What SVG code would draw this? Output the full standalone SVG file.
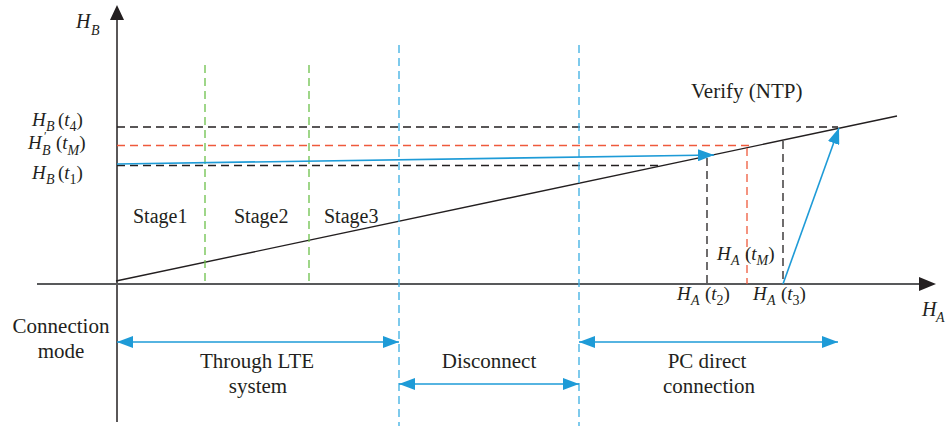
<svg xmlns="http://www.w3.org/2000/svg" width="950" height="426" viewBox="0 0 950 426">
<defs>
<marker id="ba" viewBox="0 0 16 12" refX="16" refY="6" markerWidth="16" markerHeight="12" markerUnits="userSpaceOnUse" orient="auto-start-reverse"><path d="M0,0 L16,6 L0,12 Z" fill="#1e9bd7"/></marker>
</defs>
<style>
text{fill:#231f20;font-size:19px}
.t{font-size:21px}
.i{font-style:italic}
.s{font-size:14px}
.blk{stroke:#231f20;stroke-width:1.3;stroke-dasharray:8 5;fill:none}
.red{stroke:#ef5a3c;stroke-width:1.3;stroke-dasharray:8 5;fill:none}
.grn{stroke:#6cc04a;stroke-width:1.3;stroke-dasharray:8 5;fill:none}
.bld{stroke:#3aaee2;stroke-width:1.3;stroke-dasharray:8 5;fill:none}
.blu{stroke:#1e9bd7;stroke-width:1.6;fill:none}
</style>
<g id="axes">
<line x1="117" y1="18" x2="117" y2="422" stroke="#231f20" stroke-width="1.5"/>
<polygon points="117,5 110,20 124,20" fill="#231f20"/>
<line x1="37" y1="284" x2="920" y2="284" stroke="#58595b" stroke-width="1.8"/>
<polygon points="936,284 919,277 919,291" fill="#231f20"/>
<line x1="116" y1="281" x2="897" y2="116" stroke="#231f20" stroke-width="1.4"/>
</g>
<g id="guides">
<line class="blk" x1="117" y1="127" x2="838" y2="127"/>
<line class="red" x1="117" y1="145.5" x2="752" y2="145.5"/>
<line class="blk" x1="117" y1="165.5" x2="662" y2="165.5"/>
<line class="blk" x1="707" y1="158" x2="707" y2="284"/>
<line class="red" x1="747" y1="148" x2="747" y2="284"/>
<line class="blk" x1="783" y1="141" x2="783" y2="284"/>
<line class="grn" x1="205" y1="65" x2="205" y2="284"/>
<line class="grn" x1="309" y1="65" x2="309" y2="284"/>
<line class="bld" x1="399" y1="45" x2="399" y2="426"/>
<line class="bld" x1="579" y1="45" x2="579" y2="426"/>
</g>
<g id="connectors">
<line class="blu" x1="117" y1="164" x2="714" y2="155" marker-end="url(#ba)"/>
<line class="blu" x1="783" y1="284" x2="839" y2="128" marker-end="url(#ba)"/>
<line class="blu" x1="117" y1="342" x2="399" y2="342" marker-start="url(#ba)" marker-end="url(#ba)"/>
<line class="blu" x1="399" y1="384" x2="579" y2="384" marker-start="url(#ba)" marker-end="url(#ba)"/>
<line class="blu" x1="579" y1="342" x2="838" y2="342" marker-start="url(#ba)" marker-end="url(#ba)"/>
</g>
<g id="labels" font-family="'Liberation Serif', 'DejaVu Serif', serif">
<text x="76" y="28" style="font-size:20px"><tspan class="i">H</tspan><tspan class="i s" x="91" y="35">B</tspan></text>
<text x="32" y="126"><tspan class="i">H</tspan><tspan class="i s" x="46" y="131">B</tspan><tspan x="58" y="126">(</tspan><tspan class="i">t</tspan><tspan class="s" y="131">4</tspan><tspan y="126">)</tspan></text>
<text x="28" y="149"><tspan class="i">H</tspan><tspan class="i s" x="42" y="155">B</tspan><tspan x="56" y="149">(</tspan><tspan class="i">t</tspan><tspan class="i s" y="155">M</tspan><tspan y="149">)</tspan></text>
<text x="44" y="140" style="font-size:12px">′</text>
<text x="32" y="179"><tspan class="i">H</tspan><tspan class="i s" x="46" y="184">B</tspan><tspan x="58" y="179">(</tspan><tspan class="i">t</tspan><tspan class="s" y="184">1</tspan><tspan y="179">)</tspan></text>
<text x="133" y="223" style="font-size:20px">Stage1</text>
<text x="234" y="223" style="font-size:20px">Stage2</text>
<text x="324" y="223" style="font-size:20px">Stage3</text>
<text x="691" y="98" class="t">Verify (NTP)</text>
<text x="717" y="260"><tspan class="i">H</tspan><tspan class="i s" x="731" y="265">A</tspan><tspan x="745" y="260">(</tspan><tspan class="i">t</tspan><tspan class="i s" y="265">M</tspan><tspan y="260">)</tspan></text>
<text x="677" y="300"><tspan class="i">H</tspan><tspan class="i s" x="691" y="305">A</tspan><tspan x="705" y="300">(</tspan><tspan class="i">t</tspan><tspan class="s" y="305">2</tspan><tspan y="300">)</tspan></text>
<text x="753" y="300"><tspan class="i">H</tspan><tspan class="i s" x="767" y="305">A</tspan><tspan x="781" y="300">(</tspan><tspan class="i">t</tspan><tspan class="s" y="305">3</tspan><tspan y="300">)</tspan></text>
<text x="922" y="316" style="font-size:20px"><tspan class="i">H</tspan><tspan class="i s" x="936" y="322">A</tspan></text>
<text x="61" y="333" class="t" text-anchor="middle">Connection</text>
<text x="61" y="358" class="t" text-anchor="middle">mode</text>
<text x="257" y="368" class="t" text-anchor="middle">Through LTE</text>
<text x="258" y="393" class="t" text-anchor="middle">system</text>
<text x="489" y="368" class="t" text-anchor="middle">Disconnect</text>
<text x="707" y="368" class="t" text-anchor="middle">PC direct</text>
<text x="709" y="393" class="t" text-anchor="middle">connection</text>
</g>
</svg>
